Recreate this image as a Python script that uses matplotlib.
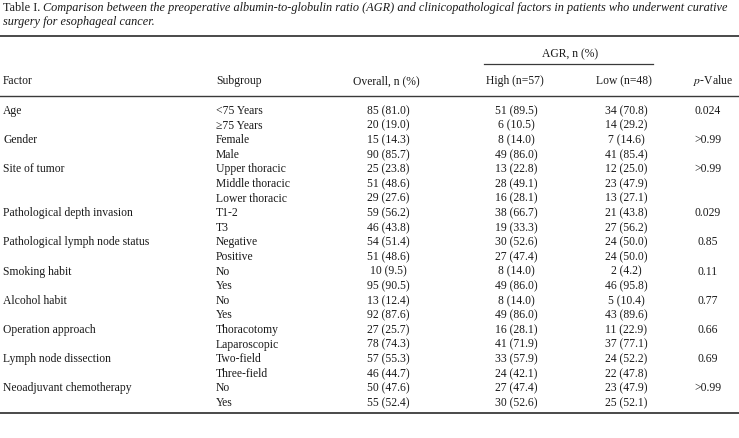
"""Table I 재현: AGR 와 임상병리 인자 비교 표 (matplotlib text only)."""
import matplotlib
matplotlib.use("Agg")
import matplotlib.pyplot as plt

W, H = 739, 439
FONT = "Liberation Serif"
FS = 8.4
FS_TITLE = 8.8
INK = "#1a1a1a"
RULE = "#3a3a3a"

# === 데이터 ===
factors = ["Age", "Gender", "Site of tumor", "Pathological depth invasion",
           "Pathological lymph node status", "Smoking habit", "Alcohol habit",
           "Operation approach", "Lymph node dissection",
           "Neoadjuvant chemotherapy"]
subgroups = [
    ["<75 Years", "\u226575 Years"],
    ["Female", "Male"],
    ["Upper thoracic", "Middle thoracic", "Lower thoracic"],
    ["T1-2", "T3"],
    ["Negative", "Positive"],
    ["No", "Yes"],
    ["No", "Yes"],
    ["Thoracotomy", "Laparoscopic"],
    ["Two-field", "Three-field"],
    ["No", "Yes"],
]
overall_n = [85, 20, 15, 90, 25, 51, 29, 59, 46, 54, 51, 10, 95, 13, 92, 27, 78, 57, 46, 50, 55]
overall_pct = [81.0, 19.0, 14.3, 85.7, 23.8, 48.6, 27.6, 56.2, 43.8, 51.4, 48.6,
               9.5, 90.5, 12.4, 87.6, 25.7, 74.3, 55.3, 44.7, 47.6, 52.4]
high_n = [51, 6, 8, 49, 13, 28, 16, 38, 19, 30, 27, 8, 49, 8, 49, 16, 41, 33, 24, 27, 30]
high_pct = [89.5, 10.5, 14.0, 86.0, 22.8, 49.1, 28.1, 66.7, 33.3, 52.6, 47.4,
            14.0, 86.0, 14.0, 86.0, 28.1, 71.9, 57.9, 42.1, 47.4, 52.6]
low_n = [34, 14, 7, 41, 12, 23, 13, 21, 27, 24, 24, 2, 46, 5, 43, 11, 37, 24, 22, 23, 25]
low_pct = [70.8, 29.2, 14.6, 85.4, 25.0, 47.9, 27.1, 43.8, 56.2, 50.0, 50.0,
           4.2, 95.8, 10.4, 89.6, 22.9, 77.1, 52.2, 47.8, 47.9, 52.1]
p_values = ["0.024", ">0.99", ">0.99", "0.029", "0.85", "0.11", "0.77",
            "0.66", "0.69", ">0.99"]

title_lead = "Table I. "
title_l1 = ("Comparison between the preoperative albumin-to-globulin ratio (AGR) "
            "and clinicopathological factors in patients who underwent curative")
title_l2 = "surgery for esophageal cancer."


def fmt(n, pct):
    return f"{n} ({pct:.1f})"


fig = plt.figure(figsize=(W / 100, H / 100), dpi=100)
ax = fig.add_axes([0, 0, 1, 1])
ax.set_xlim(0, W)
ax.set_ylim(H, 0)
ax.axis("off")

txt = dict(fontfamily=FONT, fontsize=FS, color=INK, va="center")
ttl = dict(txt, fontsize=FS_TITLE)

# 제목 (Table I. 정체 + 나머지 이탤릭)
t0 = ax.text(3, 8, title_lead, ha="left", **ttl)
fig.canvas.draw()
bb = t0.get_window_extent()
x_it = bb.x1 * W / fig.bbox.width
ax.text(x_it, 8, title_l1, ha="left", style="italic", **ttl)
ax.text(3, 22.5, title_l2, ha="left", style="italic", **ttl)

# 괘선
ax.plot([0, W], [37, 37], color=RULE, lw=1.3)
ax.plot([484, 653], [65, 65], color=RULE, lw=0.9)
ax.plot([0, W], [96.5, 96.5], color=RULE, lw=1.0)

# 헤더
ax.text(570, 54, "AGR, n (%)", ha="center", **txt)
ax.text(3, 81, "Factor", ha="left", **txt)
ax.text(216, 81, "Subgroup", ha="left", **txt)
ax.text(386, 81, "Overall, n (%)", ha="center", **txt)
ax.text(515, 81, "High (n=57)", ha="center", **txt)
ax.text(624, 81, "Low (n=48)", ha="center", **txt)
ax.text(713, 81, "$\\it{p}$-Value", ha="center", math_fontfamily="stix", **txt)

# 본문
y0, dy = 111, 14.6
row = 0
for fac, subs, p in zip(factors, subgroups, p_values):
    y = y0 + row * dy
    ax.text(3, y, fac, ha="left", **txt)
    ax.text(708, y, p, ha="center", **txt)
    for sub in subs:
        y = y0 + row * dy
        ax.text(216, y, sub, ha="left", **txt)
        ax.text(388, y, fmt(overall_n[row], overall_pct[row]), ha="center", **txt)
        ax.text(516, y, fmt(high_n[row], high_pct[row]), ha="center", **txt)
        ax.text(626, y, fmt(low_n[row], low_pct[row]), ha="center", **txt)
        row += 1

y_bot = y0 + (row - 1) * dy + 11
ax.plot([0, W], [y_bot, y_bot], color=RULE, lw=1.3)

fig.savefig("out.png", dpi=100, facecolor="white")
